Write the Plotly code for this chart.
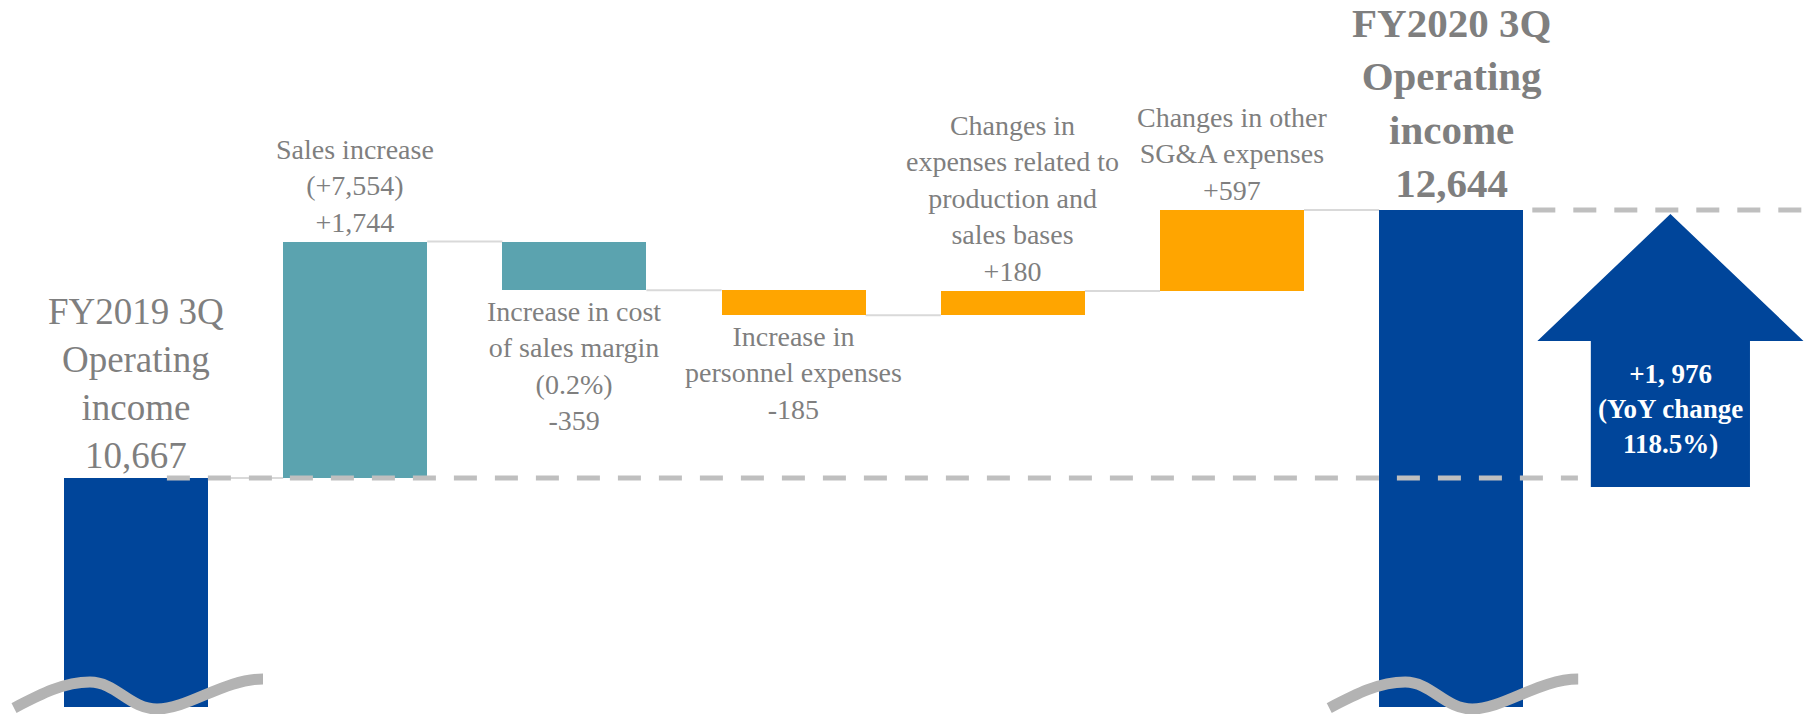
import plotly.graph_objects as go

# ---------------- data ----------------
categories = [
    "FY2019 3Q Operating income",
    "Sales increase",
    "Increase in cost of sales margin",
    "Increase in personnel expenses",
    "Changes in expenses related to production and sales bases",
    "Changes in other SG&A expenses",
    "FY2020 3Q Operating income",
]
label_heads = [
    "FY2019 3Q<br>Operating<br>income",
    "Sales increase<br>(+7,554)",
    "Increase in cost<br>of sales margin<br>(0.2%)",
    "Increase in<br>personnel expenses",
    "Changes in<br>expenses related to<br>production and<br>sales bases",
    "Changes in other<br>SG&A expenses",
    "FY2020 3Q<br>Operating<br>income",
]
values = [10667, 1744, -359, -185, 180, 597, 12644]
kinds = ["total", "delta", "delta", "delta", "delta", "delta", "total"]
arrow_text = "+1, 976<br>(YoY change<br>118.5%)"

# ---------------- styles ----------------
BLUE = "#00459A"
TEAL = "#5BA3AF"
ORANGE = "#FFA500"
GRAY_TXT = "#7F7F7F"
bar_colors = [BLUE, TEAL, TEAL, ORANGE, ORANGE, ORANGE, BLUE]
FONT = "Liberation Serif, Times New Roman, serif"
BAR_W = 0.657
Y_MIN, Y_MAX = 8978, 14193
X_MIN, X_MAX = -0.6204, 7.6186
PLOT_H = 707

# ---------------- compute waterfall ----------------
xs = list(range(len(values)))
bases, heights, ends = [], [], []
cum = 0
for v, k in zip(values, kinds):
    if k == "total":
        bases.append(0)
        heights.append(v)
        cum = v
    else:
        bases.append(cum)
        heights.append(v)
        cum = cum + v
    ends.append(cum)

fig = go.Figure()
fig.add_trace(go.Bar(
    x=xs, y=heights, base=bases, width=BAR_W,
    marker=dict(color=bar_colors, line=dict(width=0)),
    hoverinfo="skip", showlegend=False,
))

shapes = []
# connectors
for i in range(len(values) - 1):
    shapes.append(dict(
        type="line", xref="x", yref="y", layer="below",
        x0=i + BAR_W / 2, x1=i + 1 - BAR_W / 2, y0=ends[i], y1=ends[i],
        line=dict(color="#D9D9D9", width=2),
    ))

start_val = values[0]
end_val = values[-1]
# dashed reference lines
shapes.append(dict(type="line", xref="x", yref="y", layer="above",
                   x0=0.141, x1=6.578, y0=start_val, y1=start_val,
                   line=dict(color="#BFBFBF", width=5, dash="23px,18px")))
shapes.append(dict(type="line", xref="x", yref="y", layer="above",
                   x0=6.37, x1=X_MAX, y0=end_val, y1=end_val,
                   line=dict(color="#BFBFBF", width=5, dash="23px,18px")))

# arrow
ax = 7
sw, hw = 0.363, 0.607
y_bot, y_head, y_tip = start_val - 66, start_val + 1011, end_val - 30
path = (f"M {ax - sw},{y_bot} L {ax - sw},{y_head} L {ax - hw},{y_head} "
        f"L {ax},{y_tip} L {ax + hw},{y_head} L {ax + sw},{y_head} L {ax + sw},{y_bot} Z")
shapes.append(dict(type="path", xref="x", yref="y", path=path,
                   fillcolor=BLUE, line=dict(width=0), layer="above"))

# axis-break waves (paper coords, px offsets from bar centre)
def px_to_paper_x(px):
    return px / 1806.0

def px_to_paper_y(py):
    return (PLOT_H - py) / PLOT_H

def data_x_to_px(x):
    return (x - X_MIN) / (X_MAX - X_MIN) * 1806.0

wave = [(-122, 708),
        (-95, 694), (-72, 682), (-46, 682),
        (-20, 682), (-6, 709), (21, 709),
        (52, 709), (88, 679), (127, 679)]
for i, k in enumerate(kinds):
    if k != "total":
        continue
    cx = data_x_to_px(i)
    pts = [(px_to_paper_x(cx + dx), px_to_paper_y(dy)) for dx, dy in wave]
    p = f"M {pts[0][0]},{pts[0][1]} "
    p += f"C {pts[1][0]},{pts[1][1]} {pts[2][0]},{pts[2][1]} {pts[3][0]},{pts[3][1]} "
    p += f"C {pts[4][0]},{pts[4][1]} {pts[5][0]},{pts[5][1]} {pts[6][0]},{pts[6][1]} "
    p += f"C {pts[7][0]},{pts[7][1]} {pts[8][0]},{pts[8][1]} {pts[9][0]},{pts[9][1]}"
    shapes.append(dict(type="path", xref="paper", yref="paper", path=p,
                       line=dict(color="#B3B3B3", width=11), layer="above"))

# annotations
annotations = []
for i, (head, v, k) in enumerate(zip(label_heads, values, kinds)):
    if k == "total":
        txt = f"{head}<br>{v:,}"
        top = v
        bold = i == len(values) - 1
        size = 41 if bold else 37
        if bold:
            txt = f"<b>{txt}</b>"
        annotations.append(dict(x=i, y=top, xref="x", yref="y", text=txt,
                                showarrow=False, yanchor="bottom",
                                yshift=2 if bold else 0,
                                font=dict(family=FONT, size=size, color=GRAY_TXT)))
    else:
        txt = f"{head}<br>{v:+,}"
        lo, hi = min(bases[i], ends[i]), max(bases[i], ends[i])
        if v >= 0:
            annotations.append(dict(x=i, y=hi, xref="x", yref="y", text=txt,
                                    showarrow=False, yanchor="bottom", yshift=2,
                                    font=dict(family=FONT, size=28, color=GRAY_TXT)))
        else:
            annotations.append(dict(x=i, y=lo, xref="x", yref="y", text=txt,
                                    showarrow=False, yanchor="top", yshift=-4,
                                    font=dict(family=FONT, size=28, color=GRAY_TXT)))

annotations.append(dict(x=ax, y=start_val + 509, xref="x", yref="y",
                        text=f"<b>{arrow_text}</b>", showarrow=False,
                        yanchor="middle",
                        font=dict(family=FONT, size=27, color="white")))

fig.update_layout(
    width=1806, height=714,
    margin=dict(l=0, r=0, t=0, b=7, pad=0),
    paper_bgcolor="white", plot_bgcolor="white",
    xaxis=dict(range=[X_MIN, X_MAX], visible=False, fixedrange=True),
    yaxis=dict(range=[Y_MIN, Y_MAX], visible=False, fixedrange=True),
    shapes=shapes, annotations=annotations,
    bargap=0, showlegend=False,
)

fig.write_html("out.html")
